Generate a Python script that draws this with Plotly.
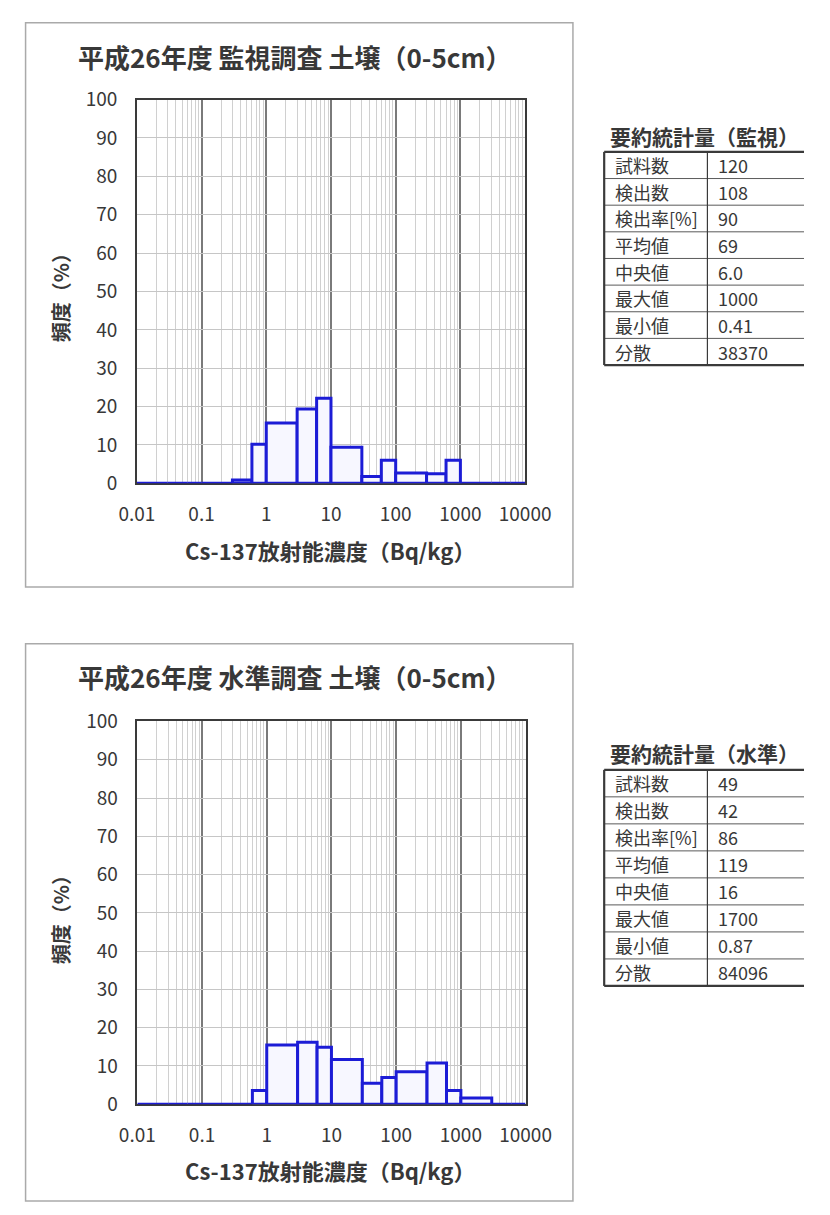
import plotly.graph_objects as go

# Histogram bins (Bq/kg) and relative frequency (%) per bin
bin_edges = [0.01, 0.03, 0.06, 0.1, 0.3, 0.6, 1, 3, 6, 10, 30, 60, 100, 300, 600, 1000, 3000, 6000, 10000]
freq_kanshi = [0, 0, 0, 0, 0.9, 10.2, 15.7, 19.4, 22.2, 9.4, 1.8, 6.0, 2.7, 2.5, 6.0, 0, 0, 0]
freq_suijun = [0, 0, 0, 0, 0, 3.6, 15.5, 16.2, 14.9, 11.7, 5.5, 7.0, 8.5, 10.8, 3.6, 1.6, 0, 0]

x_tick_vals = [0.01, 0.1, 1, 10, 100, 1000, 10000]
x_tick_text = ["0.01", "0.1", "1", "10", "100", "1000", "10000"]

title_kanshi = "平成26年度 監視調査 土壌（0-5cm）"
title_suijun = "平成26年度 水準調査 土壌（0-5cm）"
x_title = "Cs-137放射能濃度（Bq/kg）"
y_title = "頻度（%）"

# Summary statistics tables
stat_names = ["試料数", "検出数", "検出率[%]", "平均値", "中央値", "最大値", "最小値", "分散"]
stats_kanshi = ["120", "108", "90", "69", "6.0", "1000", "0.41", "38370"]
stats_suijun = ["49", "42", "86", "119", "16", "1700", "0.87", "84096"]
table_title_kanshi = "要約統計量（監視）"
table_title_suijun = "要約統計量（水準）"

W, H = 830, 1215
FONT = "Noto Sans CJK JP"
TXT = "#383838"


def px(x):
    return x / W


def py(y):
    return 1 - y / H


fig = go.Figure()


def add_hist(edges, freqs, xa, ya):
    for i, h in enumerate(freqs):
        x0, x1 = edges[i], edges[i + 1]
        fig.add_trace(go.Scatter(
            x=[x0, x0, x1, x1, x0], y=[0, h, h, 0, 0],
            mode="lines", fill="toself", fillcolor="#f7f7ff",
            line=dict(color="#1c1cd6", width=3),
            xaxis=xa, yaxis=ya, hoverinfo="skip", showlegend=False,
        ))


add_hist(bin_edges, freq_kanshi, "x", "y")
add_hist(bin_edges, freq_suijun, "x2", "y2")

xaxis_common = dict(
    type="log", range=[-2, 4], tickmode="array",
    tickvals=x_tick_vals, ticktext=x_tick_text,
    showgrid=True, gridcolor="#7a7a7a", gridwidth=1.6,
    minor=dict(dtick="D1", showgrid=True, gridcolor="#d0d0d0", gridwidth=1.3),
    showline=True, linecolor="#3a3a3a", linewidth=1.5, mirror=True,
    ticks="", ticklabelstandoff=13, zeroline=False, layer="below traces",
    tickfont=dict(family=FONT, size=19, color=TXT),
)
yaxis_common = dict(
    range=[0, 100], dtick=10, tick0=0,
    showgrid=True, gridcolor="#c6c6c6", gridwidth=1,
    showline=True, linecolor="#3a3a3a", linewidth=1.5, mirror=True,
    ticks="", ticklabelstandoff=14, zeroline=False, layer="below traces",
    tickfont=dict(family=FONT, size=19, color=TXT),
)

fig.update_layout(
    width=W, height=H, margin=dict(l=0, r=0, t=0, b=0),
    paper_bgcolor="white", plot_bgcolor="white",
    font=dict(family=FONT, color=TXT),
    xaxis=dict(domain=[px(125.5), px(535.5)], anchor="y", **xaxis_common),
    yaxis=dict(domain=[py(479), py(86.5)], anchor="x", **yaxis_common),
    xaxis2=dict(domain=[px(126), px(536)], anchor="y2", **xaxis_common),
    yaxis2=dict(domain=[py(1114), py(722.5)], anchor="x2", **yaxis_common),
)

shapes = []
annotations = []


def hline(x0, x1, y, width, color="#3a3a3a"):
    shapes.append(dict(type="line", xref="paper", yref="paper",
                       x0=px(x0), x1=px(x1), y0=py(y), y1=py(y),
                       line=dict(color=color, width=width)))


def vline(x, y0, y1, width, color="#3a3a3a"):
    shapes.append(dict(type="line", xref="paper", yref="paper",
                       x0=px(x), x1=px(x), y0=py(y0), y1=py(y1),
                       line=dict(color=color, width=width)))


def label(text, x, y, size, angle=0, xanchor="center"):
    annotations.append(dict(text=text, x=px(x), y=py(y), xref="paper", yref="paper",
                            xanchor=xanchor, yanchor="middle", textangle=angle,
                            showarrow=False, font=dict(family=FONT, size=size, color=TXT)))


# Outer chart frames
for top, bottom in [(8, 585), (643, 1213)]:
    shapes.append(dict(type="rect", xref="paper", yref="paper",
                       x0=px(8), x1=px(586), y0=py(bottom), y1=py(top),
                       line=dict(color="#aaaaaa", width=1.5), layer="below"))

for title, ty, ycen, xty in [(title_kanshi, 42, 284, 547), (title_suijun, 677, 920, 1181)]:
    label("<b>" + title + "</b>", 292, ty, 26)
    label("<b>" + y_title + "</b>", 45, ycen, 20, angle=-90)
    label("<b>" + x_title + "</b>", 330, xty, 22)

# Summary tables: ruled grid with a label column and a value column
TBL_LEFT, TBL_DIV, TBL_RIGHT = 619, 728, 830
for ttitle, vals, t_title_y, t_top, t_bottom in [
    (table_title_kanshi, stats_kanshi, 124, 140, 358),
    (table_title_suijun, stats_suijun, 755, 772, 993),
]:
    label("<b>" + ttitle + "</b>", 623, t_title_y, 21, xanchor="left")
    n = len(stat_names)
    row_h = (t_bottom - t_top) / n
    for i in range(1, n):
        hline(TBL_LEFT, TBL_RIGHT, t_top + i * row_h, 1, color="#5a5a5a")
    hline(TBL_LEFT, TBL_RIGHT, t_top, 2.2)
    hline(TBL_LEFT, TBL_RIGHT, t_bottom, 2.2)
    vline(TBL_LEFT, t_top, t_bottom, 2.2)
    vline(TBL_DIV, t_top, t_bottom, 1.2)
    for i, (name, v) in enumerate(zip(stat_names, vals)):
        yc = t_top + (i + 0.5) * row_h
        label(name, 628, yc, 18, xanchor="left")
        label(v, 737, yc, 18, xanchor="left")

fig.update_layout(shapes=shapes, annotations=annotations)
fig.write_html("out.html")
